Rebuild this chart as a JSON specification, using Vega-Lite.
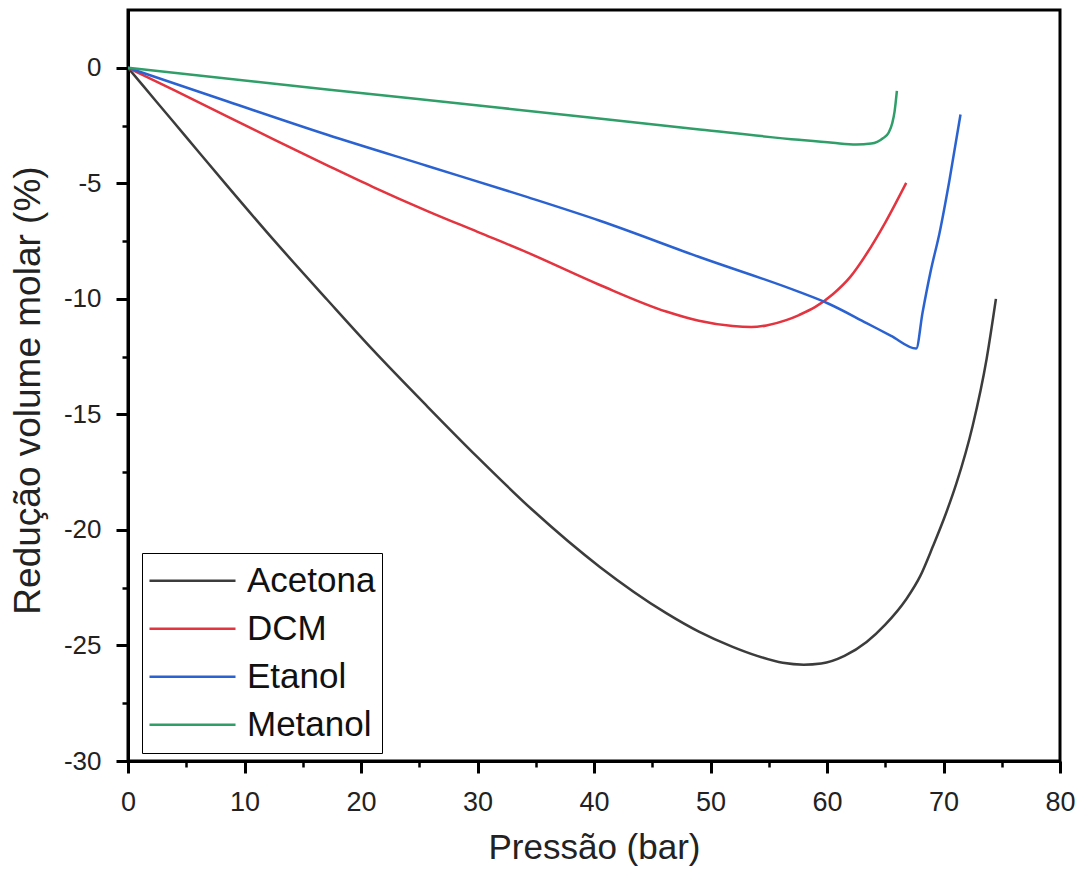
{
  "$schema": "https://vega.github.io/schema/vega-lite/v6.json",
  "width": 932,
  "height": 751,
  "autosize": {"type": "none"},
  "padding": {"left": 128, "top": 10, "right": 24, "bottom": 117},
  "background": "white",
  "config": {
    "font": "Liberation Sans",
    "view": {"stroke": "black", "strokeWidth": 3},
    "axis": {"grid": false, "domainColor": "black", "tickColor": "black", "labelColor": "#222222", "titleColor": "#222222", "titleFontWeight": "normal", "labelFont": "Liberation Sans", "titleFont": "Liberation Sans"}
  },
  "data": {
    "values": [
      {"P": 0, "V": 0, "s": "Acetona"},
      {"P": 2.5, "V": -1.5, "s": "Acetona"},
      {"P": 5, "V": -3.0, "s": "Acetona"},
      {"P": 8.5, "V": -5.1, "s": "Acetona"},
      {"P": 12.5, "V": -7.45, "s": "Acetona"},
      {"P": 17.1, "V": -10.04, "s": "Acetona"},
      {"P": 21, "V": -12.2, "s": "Acetona"},
      {"P": 25.7, "V": -14.66, "s": "Acetona"},
      {"P": 30, "V": -16.85, "s": "Acetona"},
      {"P": 34.75, "V": -19.15, "s": "Acetona"},
      {"P": 40.5, "V": -21.6, "s": "Acetona"},
      {"P": 46.2, "V": -23.6, "s": "Acetona"},
      {"P": 49, "V": -24.4, "s": "Acetona"},
      {"P": 51.9, "V": -25.06, "s": "Acetona"},
      {"P": 54, "V": -25.45, "s": "Acetona"},
      {"P": 56.2, "V": -25.75, "s": "Acetona"},
      {"P": 58, "V": -25.83, "s": "Acetona"},
      {"P": 59.5, "V": -25.78, "s": "Acetona"},
      {"P": 61.5, "V": -25.45, "s": "Acetona"},
      {"P": 63.4, "V": -24.85, "s": "Acetona"},
      {"P": 65, "V": -24.1, "s": "Acetona"},
      {"P": 66.8, "V": -23.0, "s": "Acetona"},
      {"P": 68, "V": -22.0, "s": "Acetona"},
      {"P": 69.1, "V": -20.7, "s": "Acetona"},
      {"P": 70.2, "V": -19.3, "s": "Acetona"},
      {"P": 71.1, "V": -18.0, "s": "Acetona"},
      {"P": 72.5, "V": -15.5, "s": "Acetona"},
      {"P": 73.7, "V": -12.6, "s": "Acetona"},
      {"P": 74.5, "V": -10.0, "s": "Acetona"},
      {"P": 0, "V": 0, "s": "DCM"},
      {"P": 4, "V": -0.98, "s": "DCM"},
      {"P": 8.5, "V": -2.1, "s": "DCM"},
      {"P": 12.5, "V": -3.1, "s": "DCM"},
      {"P": 17.1, "V": -4.22, "s": "DCM"},
      {"P": 21, "V": -5.15, "s": "DCM"},
      {"P": 25.7, "V": -6.2, "s": "DCM"},
      {"P": 30, "V": -7.1, "s": "DCM"},
      {"P": 34.3, "V": -8.0, "s": "DCM"},
      {"P": 40.5, "V": -9.4, "s": "DCM"},
      {"P": 46.2, "V": -10.55, "s": "DCM"},
      {"P": 49, "V": -10.95, "s": "DCM"},
      {"P": 51.9, "V": -11.18, "s": "DCM"},
      {"P": 53.5, "V": -11.22, "s": "DCM"},
      {"P": 54.8, "V": -11.15, "s": "DCM"},
      {"P": 56.5, "V": -10.92, "s": "DCM"},
      {"P": 57.6, "V": -10.7, "s": "DCM"},
      {"P": 59, "V": -10.35, "s": "DCM"},
      {"P": 60.5, "V": -9.8, "s": "DCM"},
      {"P": 62, "V": -9.05, "s": "DCM"},
      {"P": 63.4, "V": -8.05, "s": "DCM"},
      {"P": 65, "V": -6.7, "s": "DCM"},
      {"P": 66.8, "V": -4.98, "s": "DCM"},
      {"P": 0, "V": 0, "s": "Etanol"},
      {"P": 8.5, "V": -1.45, "s": "Etanol"},
      {"P": 17.1, "V": -2.9, "s": "Etanol"},
      {"P": 25.7, "V": -4.25, "s": "Etanol"},
      {"P": 34.3, "V": -5.6, "s": "Etanol"},
      {"P": 40.5, "V": -6.62, "s": "Etanol"},
      {"P": 49.1, "V": -8.2, "s": "Etanol"},
      {"P": 57.6, "V": -9.7, "s": "Etanol"},
      {"P": 60, "V": -10.18, "s": "Etanol"},
      {"P": 63.4, "V": -11.05, "s": "Etanol"},
      {"P": 65.5, "V": -11.6, "s": "Etanol"},
      {"P": 67.66, "V": -12.15, "s": "Etanol"},
      {"P": 68.2, "V": -10.6, "s": "Etanol"},
      {"P": 68.9, "V": -8.8, "s": "Etanol"},
      {"P": 69.66, "V": -7.15, "s": "Etanol"},
      {"P": 70.5, "V": -4.9, "s": "Etanol"},
      {"P": 71.46, "V": -2.02, "s": "Etanol"},
      {"P": 0, "V": 0, "s": "Metanol"},
      {"P": 17.1, "V": -0.94, "s": "Metanol"},
      {"P": 31.9, "V": -1.73, "s": "Metanol"},
      {"P": 49.06, "V": -2.67, "s": "Metanol"},
      {"P": 57.6, "V": -3.12, "s": "Metanol"},
      {"P": 60.5, "V": -3.25, "s": "Metanol"},
      {"P": 62.5, "V": -3.32, "s": "Metanol"},
      {"P": 63.8, "V": -3.28, "s": "Metanol"},
      {"P": 64.8, "V": -3.05, "s": "Metanol"},
      {"P": 65.3, "V": -2.8, "s": "Metanol"},
      {"P": 65.6, "V": -2.4, "s": "Metanol"},
      {"P": 65.8, "V": -1.9, "s": "Metanol"},
      {"P": 66.0, "V": -1.0, "s": "Metanol"}
    ]
  },
  "resolve": {"axis": {"x": "independent", "y": "independent"}},
  "layer": [
    {
      "mark": {"type": "line", "strokeWidth": 2.5, "clip": true, "interpolate": "monotone"},
      "encoding": {
        "x": {"field": "P", "type": "quantitative", "scale": {"domain": [0, 80], "nice": false, "zero": false},
          "axis": {"orient": "bottom", "values": [0, 10, 20, 30, 40, 50, 60, 70, 80], "tickSize": 12, "tickWidth": 3, "domainWidth": 3, "labelFontSize": 27, "labelPadding": 16, "labelFlush": false, "title": "Pressão (bar)", "titleFontSize": 35, "titleY": 97, "titleBaseline": "alphabetic"}},
        "y": {"field": "V", "type": "quantitative", "scale": {"domain": [-30, 2.5], "nice": false, "zero": false},
          "axis": {"orient": "left", "values": [-30, -25, -20, -15, -10, -5, 0], "tickSize": 12, "tickWidth": 3, "domainWidth": 3, "labelFontSize": 26, "labelPadding": 15, "labelExpr": "datum.value < 0 ? '-' + abs(datum.value) : '' + datum.value", "title": "Redução volume molar (%)", "titleFontSize": 37, "titleX": -100, "titleY": 380, "titleAngle": -90, "titleBaseline": "middle", "titleAlign": "center"}},
        "color": {"field": "s", "type": "nominal",
          "scale": {"domain": ["Acetona", "DCM", "Etanol", "Metanol"], "range": ["#3c3c3c", "#e3343f", "#2b62d1", "#2f9e69"]},
          "legend": {"title": null, "orient": "none", "legendX": 14, "legendY": 543, "strokeColor": "black", "fillColor": "white", "padding": 6, "clipHeight": 43.5, "rowPadding": 4, "symbolType": "stroke", "symbolSize": 7400, "symbolStrokeWidth": 2.5, "labelFontSize": 35, "labelOffset": 10, "labelColor": "#111111", "labelFont": "Liberation Sans", "labelLimit": 300}}
      }
    },
    {
      "mark": {"type": "point", "opacity": 0},
      "encoding": {
        "x": {"field": "P", "type": "quantitative",
          "axis": {"orient": "bottom", "values": [5, 15, 25, 35, 45, 55, 65, 75], "tickSize": 6, "tickWidth": 2.5, "labels": false, "domain": false, "title": null}},
        "y": {"field": "V", "type": "quantitative",
          "axis": {"orient": "left", "values": [-27.5, -22.5, -17.5, -12.5, -7.5, -2.5], "tickSize": 6, "tickWidth": 2.5, "labels": false, "domain": false, "title": null}}
      }
    }
  ]
}
